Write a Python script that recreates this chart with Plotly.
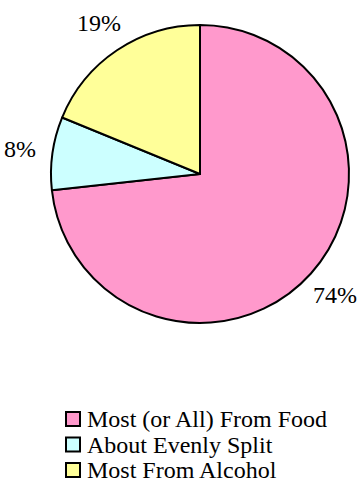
import math
import plotly.graph_objects as go

# Share of spending, by source
labels = ["Most (or All) From Food", "About Evenly Split", "Most From Alcohol"]
values = [74, 8, 19]
colors = ["#FF99CC", "#CCFFFF", "#FFFF99"]

W, H = 362, 494
FONT = "Liberation Serif, Times New Roman, serif"

# Pie placement in pixels (left, right, top, bottom of the disc)
PX0, PX1, PY0, PY1 = 51, 349, 25, 323
cx, cy = (PX0 + PX1) / 2, (PY0 + PY1) / 2
R = (PX1 - PX0) / 2

fig = go.Figure(
    go.Pie(
        labels=labels,
        values=values,
        textinfo="none",
        sort=False,
        direction="clockwise",
        rotation=0,
        marker=dict(colors=colors, line=dict(color="black", width=2)),
        showlegend=False,
        hoverinfo="label+percent",
        domain=dict(x=[PX0 / W, PX1 / W], y=[1 - PY1 / H, 1 - PY0 / H]),
    )
)

shapes, annotations = [], []

# Percent labels outside each slice, along the slice's mid-angle
total = sum(values)
start = 0.0
label_r = 1.22 * R
for v in values:
    mid = (start + v / 2) / total * 2 * math.pi  # clockwise from 12 o'clock
    start += v
    lx = cx + label_r * math.sin(mid)
    ly = cy - label_r * math.cos(mid)
    annotations.append(dict(
        xref="paper", yref="paper", x=lx / W, y=1 - ly / H,
        xanchor="center", yanchor="middle", text=f"{v}%", showarrow=False,
        font=dict(family=FONT, size=24, color="black"),
    ))

# Legend drawn as swatches + captions, one row per category
sw_x0, sw_size, row0, row_gap = 66, 14, 419, 25.5
for i, (lab, col) in enumerate(zip(labels, colors)):
    yc = row0 + i * row_gap
    shapes.append(dict(
        type="rect", xref="paper", yref="paper",
        x0=sw_x0 / W, x1=(sw_x0 + sw_size) / W,
        y0=1 - (yc + sw_size / 2) / H, y1=1 - (yc - sw_size / 2) / H,
        fillcolor=col, line=dict(color="black", width=2),
    ))
    annotations.append(dict(
        xref="paper", yref="paper", x=(sw_x0 + sw_size + 5) / W, y=1 - yc / H,
        xanchor="left", yanchor="middle", text=lab, showarrow=False,
        font=dict(family=FONT, size=24, color="black"),
    ))

fig.update_layout(
    width=W, height=H,
    margin=dict(l=0, r=0, t=0, b=0),
    paper_bgcolor="white", plot_bgcolor="white",
    shapes=shapes, annotations=annotations,
)

fig.write_html("out.html")
